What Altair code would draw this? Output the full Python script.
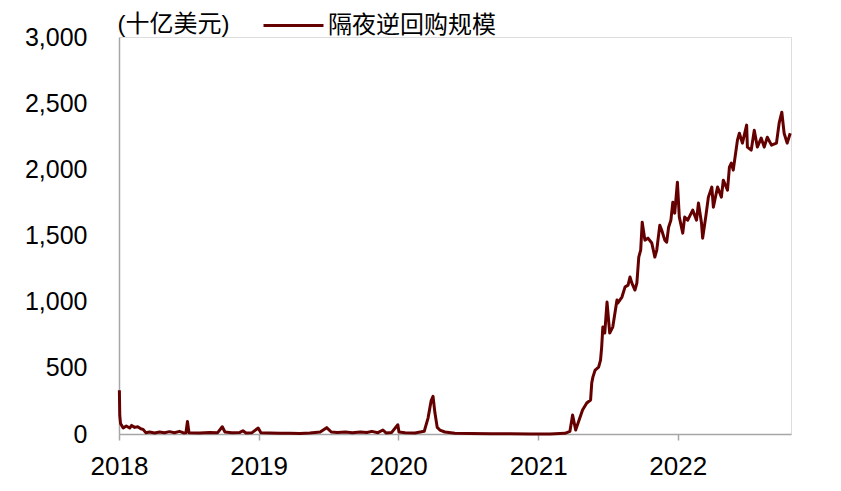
import altair as alt
import pandas as pd

dates = [
    "2018-01-02", "2018-01-03", "2018-01-05", "2018-01-12", "2018-01-20", "2018-01-29",
    "2018-02-03", "2018-02-11", "2018-02-19", "2018-02-27", "2018-03-05", "2018-03-12",
    "2018-03-22", "2018-04-04", "2018-04-17", "2018-04-30", "2018-05-13", "2018-05-26",
    "2018-06-08", "2018-06-19", "2018-06-25", "2018-06-29", "2018-07-03", "2018-07-31",
    "2018-08-26", "2018-09-16", "2018-09-28", "2018-10-05", "2018-10-23", "2018-11-13",
    "2018-11-21", "2018-11-29", "2018-12-15", "2018-12-31",
    "2019-01-07", "2019-01-30", "2019-02-26", "2019-03-24", "2019-04-19", "2019-05-15",
    "2019-06-11", "2019-06-24", "2019-06-28", "2019-07-10", "2019-07-26", "2019-08-16",
    "2019-09-03", "2019-09-24", "2019-10-11", "2019-10-24", "2019-11-09", "2019-11-22",
    "2019-11-30", "2019-12-15", "2019-12-31",
    "2020-01-03", "2020-01-19", "2020-02-14", "2020-03-09", "2020-03-19", "2020-03-27",
    "2020-04-01", "2020-04-06", "2020-04-12", "2020-04-19", "2020-05-02", "2020-05-28",
    "2020-07-07", "2020-08-29", "2020-10-20", "2020-12-11",
    "2021-02-01", "2021-03-12", "2021-03-25", "2021-04-01", "2021-04-09", "2021-04-27",
    "2021-05-08", "2021-05-18", "2021-05-21", "2021-05-24", "2021-05-30", "2021-06-08",
    "2021-06-13", "2021-06-16", "2021-06-19", "2021-06-24", "2021-06-30", "2021-07-07",
    "2021-07-15", "2021-07-26", "2021-07-28", "2021-08-08", "2021-08-16", "2021-08-24",
    "2021-08-29", "2021-09-03", "2021-09-11", "2021-09-16", "2021-09-21", "2021-09-26",
    "2021-09-30", "2021-10-07", "2021-10-15", "2021-10-25", "2021-11-02", "2021-11-07",
    "2021-11-15", "2021-11-20", "2021-11-28", "2021-12-03", "2021-12-08", "2021-12-14",
    "2021-12-19", "2021-12-24", "2021-12-31",
    "2022-01-05", "2022-01-14", "2022-01-19", "2022-01-27", "2022-02-09", "2022-02-19",
    "2022-02-24", "2022-03-04", "2022-03-07", "2022-03-15", "2022-03-22", "2022-03-31",
    "2022-04-04", "2022-04-15", "2022-04-25", "2022-04-30", "2022-05-11", "2022-05-16",
    "2022-05-21", "2022-05-26", "2022-06-06", "2022-06-11", "2022-06-19", "2022-06-30",
    "2022-07-02", "2022-07-12", "2022-07-20", "2022-07-28", "2022-08-07", "2022-08-15",
    "2022-08-23", "2022-09-03", "2022-09-16", "2022-09-23", "2022-09-30", "2022-10-06",
    "2022-10-14", "2022-10-22",
]

values = [
    330, 140, 80, 45, 60, 45,
    65, 50, 55, 40, 35, 10,
    15, 8, 15, 10, 18, 10,
    20, 8, 10, 95, 10, 8,
    12, 10, 55, 15, 10, 12,
    25, 8, 10, 45,
    10, 8, 5, 5, 3, 8,
    15, 40, 48, 15, 12, 15,
    10, 15, 12, 20, 10, 30,
    8, 12, 70,
    15, 10, 8, 20, 120, 250,
    285, 160, 50, 30, 15, 5,
    3, 2, 1, 0,
    0, 5, 20, 143, 30, 181,
    234, 257, 385, 430, 483, 506,
    559, 657, 808, 763, 997, 763,
    808, 1012, 989, 1035, 1110, 1125,
    1186, 1140, 1088, 1140, 1337, 1390,
    1601, 1465, 1480, 1443, 1337, 1390,
    1578, 1540, 1465, 1450, 1563, 1616,
    1752, 1669, 1903,
    1639, 1518, 1639, 1616, 1692, 1616,
    1745, 1594, 1480, 1639, 1790, 1866,
    1714, 1866, 1790, 1918, 1843, 2017,
    2047, 1994, 2221, 2273, 2198, 2334,
    2168, 2145, 2296, 2168, 2236, 2168,
    2243, 2183, 2198, 2349, 2432, 2273,
    2198, 2273,
]

series_name = "隔夜逆回购规模"
unit_label = "(十亿美元)"
y_ticks = [0, 500, 1000, 1500, 2000, 2500, 3000]
x_ticks = [2018, 2019, 2020, 2021, 2022]

df = pd.DataFrame({"date": dates, "value": values, "series": series_name})

FONT = "Liberation Sans, Arial, Noto Sans CJK SC"
AXIS_GRAY = "#a6a6a6"
LINE_COLOR = "#650000"

chart = alt.Chart(df).mark_line(strokeWidth=3, strokeJoin="round").encode(
    x=alt.X(
        "date:T",
        scale=alt.Scale(
            domain=[alt.DateTime(year=2018, month=1, date=1),
                    alt.DateTime(year=2022, month=10, date=24)],
            nice=False,
        ),
        axis=alt.Axis(
            title=None,
            values=[alt.DateTime(year=y, month=1, date=1) for y in x_ticks],
            format="%Y",
            grid=False,
            labelFlush=False,
            labelOverlap=False,
            domainColor=AXIS_GRAY,
            domainWidth=1.5,
            tickColor=AXIS_GRAY,
            tickWidth=1.5,
            tickSize=6,
            labelPadding=13,
            labelFont=FONT,
            labelFontSize=26,
            labelColor="#000000",
        ),
    ),
    y=alt.Y(
        "value:Q",
        scale=alt.Scale(domain=[0, 3000], nice=False),
        axis=alt.Axis(
            title=unit_label,
            titleAngle=0,
            titleAlign="left",
            titleBaseline="middle",
            titleX=-2,
            titleY=-13,
            titleFont=FONT,
            titleFontSize=24,
            titleFontWeight="normal",
            titleColor="#000000",
            values=y_ticks,
            format=",.0f",
            grid=False,
            ticks=False,
            labelFlush=False,
            domainColor=AXIS_GRAY,
            domainWidth=1.5,
            labelPadding=32,
            labelFont=FONT,
            labelFontSize=25,
            labelColor="#000000",
        ),
    ),
    color=alt.Color(
        "series:N",
        scale=alt.Scale(range=[LINE_COLOR]),
        legend=alt.Legend(
            title=None,
            orient="none",
            legendX=143,
            legendY=-43,
            symbolType="stroke",
            symbolSize=3600,
            symbolStrokeWidth=3,
            labelOffset=3,
            labelLimit=500,
            labelFont=FONT,
            labelFontSize=24,
            labelColor="#000000",
            padding=0,
        ),
    ),
).properties(
    width=672,
    height=397,
    autosize=alt.AutoSizeParams(type="none"),
    padding={"left": 111, "top": 29, "right": 30, "bottom": 50},
).configure_view(stroke=None).configure(background="white")

chart.save("out.html", embed_options={"renderer": "svg", "actions": False})
